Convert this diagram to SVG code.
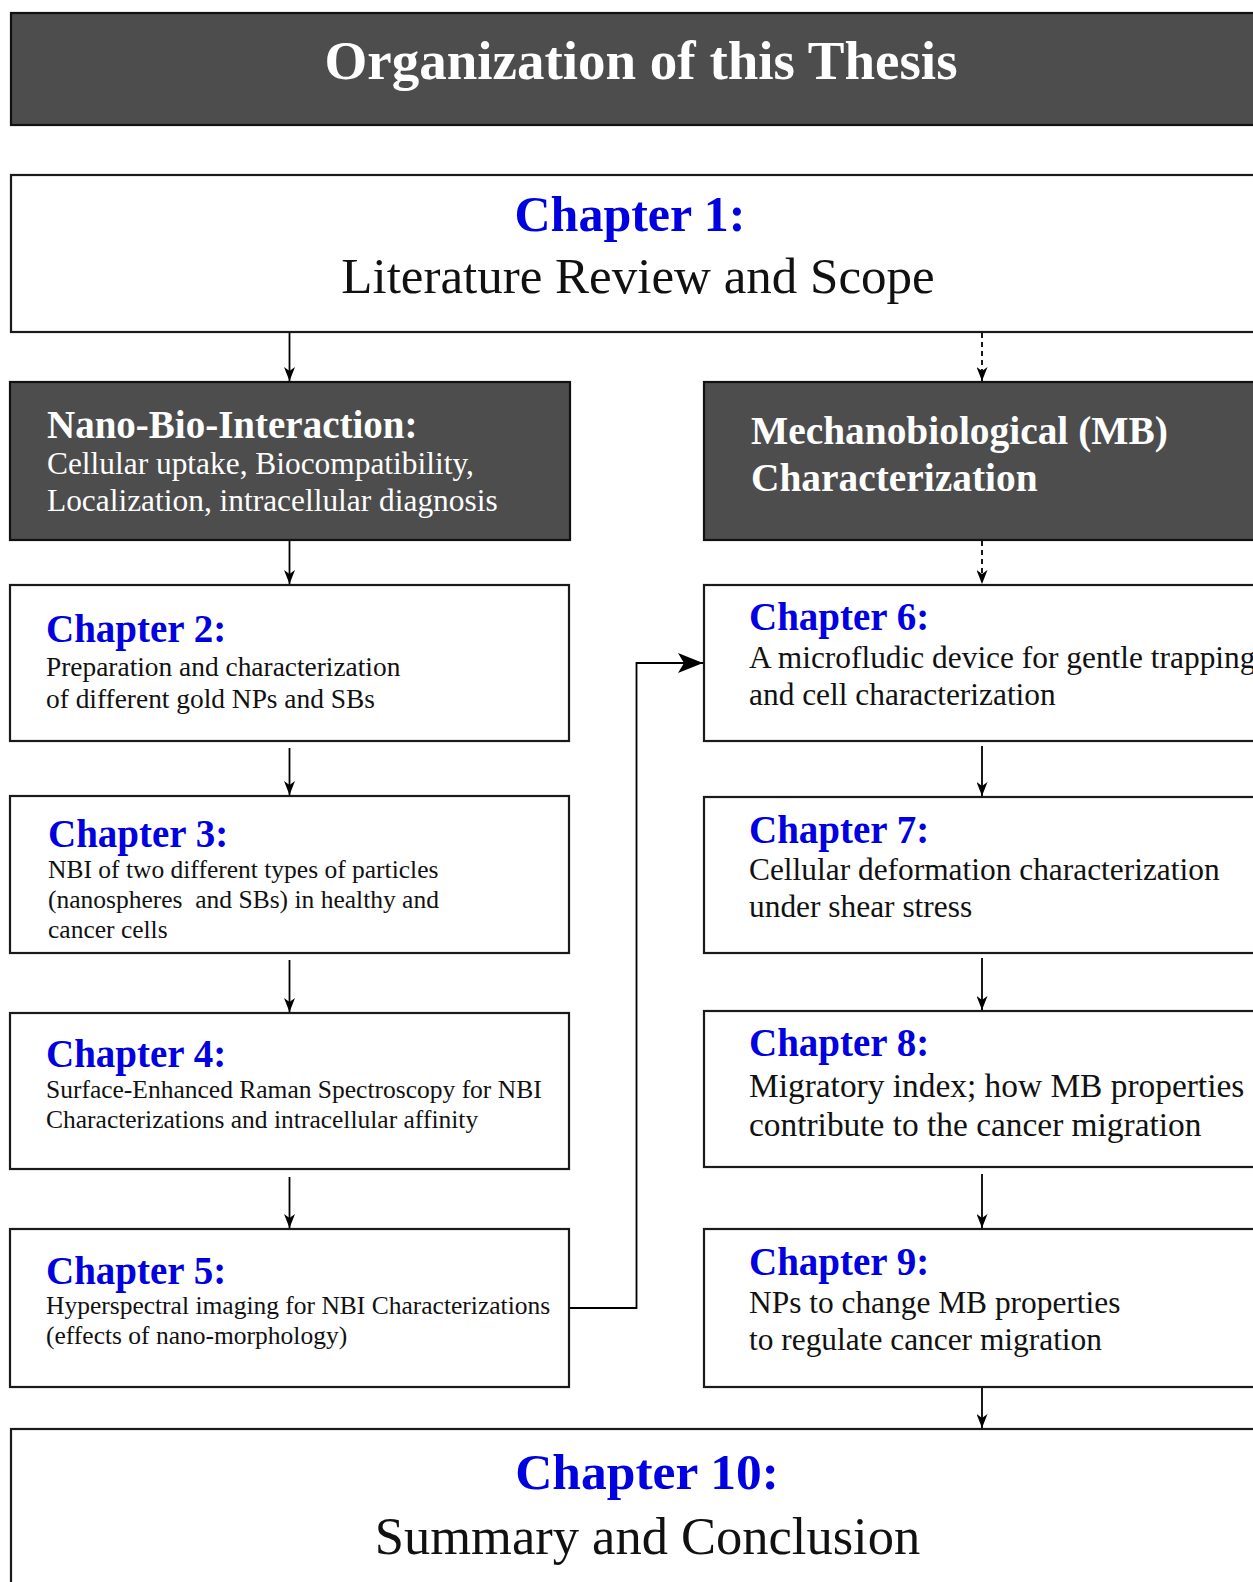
<svg xmlns="http://www.w3.org/2000/svg" width="1253" height="1582" viewBox="0 0 1253 1582">
<style>
text{font-family:"Liberation Serif","Times New Roman",serif}
.dark{fill:#4d4d4d;stroke:#111;stroke-width:2.2}
.box{fill:#fff;stroke:#1a1a1a;stroke-width:2.2}
.ttl{fill:#fff;font-weight:bold}
.chap{fill:#0000e0;font-weight:bold}
.body{fill:#111}
.wb{fill:#fff}
.ln{fill:none;stroke:#000;stroke-width:1.8}
.dash{stroke-dasharray:5 4}
</style>
<defs>
<marker id="ah" markerUnits="userSpaceOnUse" markerWidth="14" markerHeight="11" refX="14" refY="5.5" orient="auto">
<path d="M0,0 L14,5.5 L0,11 L4,5.5 z" fill="#000"/>
</marker>
<marker id="ahb" markerUnits="userSpaceOnUse" markerWidth="25" markerHeight="20" refX="25" refY="10" orient="auto">
<path d="M0,0 L25,10 L0,20 L6,10 z" fill="#000"/>
</marker>
</defs>

<g id="title">
<rect class="dark" x="11" y="13" width="1260" height="112"/>
<text class="ttl" x="641" y="79" font-size="55" text-anchor="middle">Organization of this Thesis</text>
</g>

<g id="ch1">
<rect class="box" x="11" y="175" width="1260" height="157"/>
<text class="chap" x="630" y="231" font-size="50" text-anchor="middle">Chapter 1:</text>
<text class="body" x="638" y="293" font-size="51" text-anchor="middle">Literature Review and Scope</text>
</g>

<g id="nbi">
<rect class="dark" x="10" y="382" width="560" height="158"/>
<text class="ttl" x="47" y="438" font-size="39">Nano-Bio-Interaction:</text>
<text class="wb" x="47" y="474" font-size="31.4">Cellular uptake, Biocompatibility,</text>
<text class="wb" x="47" y="511" font-size="31.4">Localization, intracellular diagnosis</text>
</g>

<g id="mb">
<rect class="dark" x="704" y="382" width="570" height="158"/>
<text class="ttl" x="751" y="444" font-size="39.4">Mechanobiological (MB)</text>
<text class="ttl" x="751" y="491" font-size="39.4">Characterization</text>
</g>

<g id="ch2">
<rect class="box" x="10" y="585" width="559" height="156"/>
<text class="chap" x="46" y="642" font-size="39">Chapter 2:</text>
<text class="body" x="46" y="676" font-size="27.4">Preparation and characterization</text>
<text class="body" x="46" y="708" font-size="27.4">of different gold NPs and SBs</text>
</g>

<g id="ch3">
<rect class="box" x="10" y="796" width="559" height="157"/>
<text class="chap" x="48" y="847" font-size="39">Chapter 3:</text>
<text class="body" x="48" y="878" font-size="25.5">NBI of two different types of particles</text>
<text class="body" x="48" y="908" font-size="25.5" xml:space="preserve">(nanospheres  and SBs) in healthy and</text>
<text class="body" x="48" y="938" font-size="25.5">cancer cells</text>
</g>

<g id="ch4">
<rect class="box" x="10" y="1013" width="559" height="156"/>
<text class="chap" x="46" y="1067" font-size="39">Chapter 4:</text>
<text class="body" x="46" y="1098" font-size="25.5">Surface-Enhanced Raman Spectroscopy for NBI</text>
<text class="body" x="46" y="1128" font-size="25.5">Characterizations and intracellular affinity</text>
</g>

<g id="ch5">
<rect class="box" x="10" y="1229" width="559" height="158"/>
<text class="chap" x="46" y="1284" font-size="39">Chapter 5:</text>
<text class="body" x="46" y="1314" font-size="25.5">Hyperspectral imaging for NBI Characterizations</text>
<text class="body" x="46" y="1344" font-size="25.5">(effects of nano-morphology)</text>
</g>

<g id="ch6">
<rect class="box" x="704" y="585" width="570" height="156"/>
<text class="chap" x="749" y="630" font-size="39">Chapter 6:</text>
<text class="body" x="749" y="668" font-size="31.4">A microfludic device for gentle trapping</text>
<text class="body" x="749" y="705" font-size="31.4">and cell characterization</text>
</g>

<g id="ch7">
<rect class="box" x="704" y="797" width="570" height="156"/>
<text class="chap" x="749" y="843" font-size="39">Chapter 7:</text>
<text class="body" x="749" y="880" font-size="31.4">Cellular deformation characterization</text>
<text class="body" x="749" y="917" font-size="31.4">under shear stress</text>
</g>

<g id="ch8">
<rect class="box" x="704" y="1011" width="570" height="156"/>
<text class="chap" x="749" y="1056" font-size="39">Chapter 8:</text>
<text class="body" x="749" y="1097" font-size="33.4">Migratory index; how MB properties</text>
<text class="body" x="749" y="1136" font-size="33.4">contribute to the cancer migration</text>
</g>

<g id="ch9">
<rect class="box" x="704" y="1229" width="570" height="158"/>
<text class="chap" x="749" y="1275" font-size="39">Chapter 9:</text>
<text class="body" x="749" y="1313" font-size="31.4">NPs to change MB properties</text>
<text class="body" x="749" y="1350" font-size="31.4">to regulate cancer migration</text>
</g>

<g id="ch10">
<rect class="box" x="11" y="1429" width="1260" height="170"/>
<text class="chap" x="647" y="1489" font-size="51.5" text-anchor="middle">Chapter 10:</text>
<text class="body" x="647.5" y="1554" font-size="52.5" text-anchor="middle">Summary and Conclusion</text>
</g>

<g id="connectors">
<line class="ln" x1="289.5" y1="333" x2="289.5" y2="381" marker-end="url(#ah)"/>
<line class="ln dash" x1="982" y1="333" x2="982" y2="381" marker-end="url(#ah)"/>
<line class="ln" x1="289.5" y1="541" x2="289.5" y2="584" marker-end="url(#ah)"/>
<line class="ln dash" x1="982" y1="541" x2="982" y2="584" marker-end="url(#ah)"/>
<line class="ln" x1="289.5" y1="748" x2="289.5" y2="795" marker-end="url(#ah)"/>
<line class="ln" x1="289.5" y1="960" x2="289.5" y2="1012" marker-end="url(#ah)"/>
<line class="ln" x1="289.5" y1="1177" x2="289.5" y2="1228" marker-end="url(#ah)"/>
<line class="ln" x1="982" y1="746" x2="982" y2="796" marker-end="url(#ah)"/>
<line class="ln" x1="982" y1="958" x2="982" y2="1010" marker-end="url(#ah)"/>
<line class="ln" x1="982" y1="1174" x2="982" y2="1228" marker-end="url(#ah)"/>
<line class="ln" x1="982" y1="1388" x2="982" y2="1428" marker-end="url(#ah)"/>
<polyline class="ln" points="570,1308 636.5,1308 636.5,663 703,663" marker-end="url(#ahb)"/>
</g>
</svg>
